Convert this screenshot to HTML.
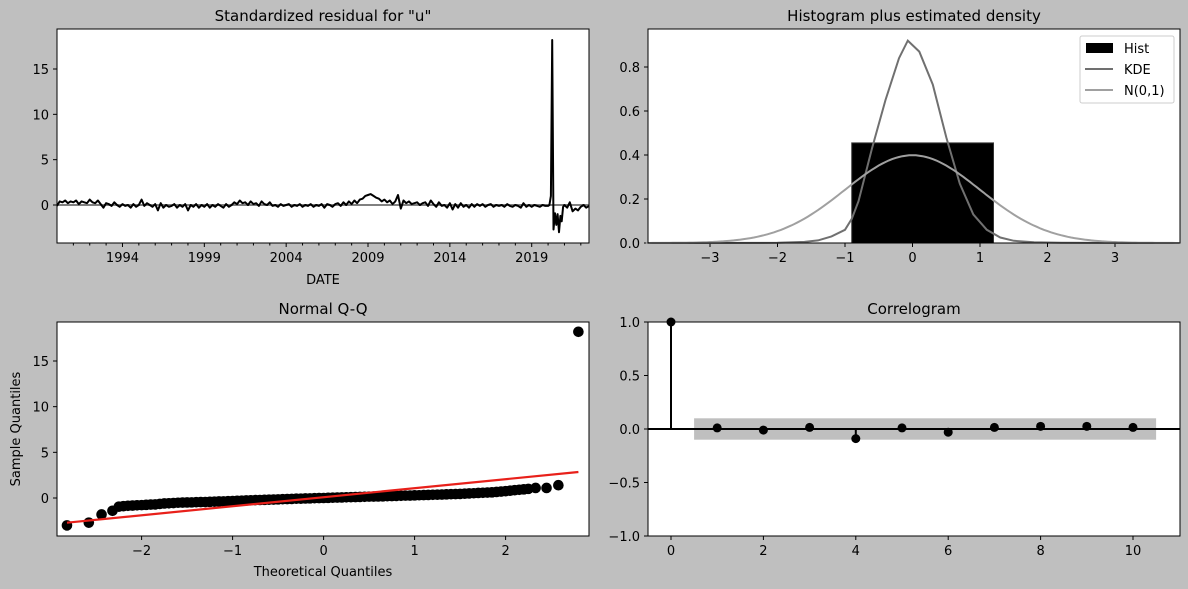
<!DOCTYPE html>
<html><head><meta charset="utf-8"><style>
html,body{margin:0;padding:0;background:#bfbfbf;}
svg{display:block;font-family:"DejaVu Sans","Liberation Sans",sans-serif;}
</style></head><body>
<svg id="fig" width="1188" height="589" viewBox="0 0 1188 589" xmlns="http://www.w3.org/2000/svg"></svg>
<script>
// ---- Panel 1: standardized residual ----
const residStartYear = 1990;
const residBimonthly = [
-0.1,0.4,0.3,0.5,0.2,0.4, 0.3,0.5,0.1,0.4,0.3,0.2, 0.6,0.3,0.2,0.5,0.1,-0.3, 0.2,0.1,-0.1,0.3,0.0,-0.2,
0.1,-0.1,0.0,-0.3,0.1,-0.2, 0.0,0.6,-0.1,0.2,0.0,-0.2, 0.1,-0.6,0.2,-0.3,0.0,-0.2, -0.1,0.1,-0.3,0.0,-0.2,0.1,
-0.6,0.0,-0.2,0.1,-0.3,0.0, -0.2,0.1,-0.3,0.0,-0.2,0.1, -0.1,-0.3,0.1,-0.2,0.0,0.3, 0.1,0.5,0.2,0.3,0.0,0.4,
0.1,0.2,-0.1,0.4,0.1,0.0, 0.3,-0.1,0.0,-0.2,0.1,-0.1, 0.0,0.1,-0.2,0.0,-0.1,0.1, -0.2,0.0,-0.1,0.1,-0.2,0.0,
-0.1,0.1,-0.3,0.1,0.0,-0.2, 0.1,0.2,-0.1,0.3,0.0,0.4, 0.1,0.5,0.2,0.6,0.7,1.0, 1.1,1.2,1.0,0.8,0.7,0.4,
0.6,0.3,0.5,0.1,0.4,1.1, -0.4,0.5,0.2,0.4,0.1,0.2, 0.3,0.0,0.2,0.3,-0.1,0.5, 0.1,-0.2,0.3,-0.1,0.0,-0.3,
0.2,-0.5,0.1,-0.3,0.2,-0.2, 0.0,-0.3,0.1,-0.2,0.1,-0.1, 0.1,-0.2,0.0,0.1,-0.2,0.0, -0.1,0.0,-0.2,0.1,-0.1,-0.2,
0.0,-0.1,-0.3,0.2,-0.2,0.0, -0.2,0.0,-0.1,-0.2,0.0,-0.1];
const residTailDates = [2020.0,2020.08,2020.17,2020.25,2020.33,2020.42,2020.5,2020.58,2020.67,2020.75,2020.83,2020.92,2021.0,2021.17,2021.33,2021.5,2021.67,2021.83,2022.0,2022.17,2022.33,2022.5];
const residTailVals = [-0.1,0.0,1.0,18.2,-2.7,-0.9,-2.2,-1.0,-3.0,-1.2,-1.8,-0.2,0.0,-0.3,0.3,-0.7,-0.4,-0.6,-0.2,0.0,-0.3,-0.1];
const residYTicks = [0,5,10,15];
const residXTicks = [1994,1999,2004,2009,2014,2019];

// ---- Panel 2: histogram ----
const histEdges = [-0.9,1.2];
const histHeights = [0.455];
const kdeX = [-3.9,-2.0,-1.6,-1.4,-1.2,-1.0,-0.9,-0.8,-0.6,-0.4,-0.2,-0.07,0.1,0.3,0.5,0.7,0.9,1.1,1.3,1.5,1.8,2.2,3.9];
const kdeY = [0,0.001,0.005,0.012,0.03,0.06,0.11,0.19,0.43,0.65,0.84,0.92,0.87,0.72,0.48,0.27,0.13,0.06,0.025,0.01,0.003,0.001,0];
const histXTicks = [-3,-2,-1,0,1,2,3];
const histYTicks = [0,0.2,0.4,0.6,0.8];

// ---- Panel 3: QQ ----
const qqBandStart = -2.25, qqBandStep = 0.05;
const qqBandSample = [-0.95,-0.9,-0.85,-0.83,-0.8,-0.78,-0.75,-0.72,-0.7,-0.65,-0.6,-0.58,-0.55,-0.52,-0.5,-0.49,-0.48,-0.46,-0.45,-0.44,-0.42,-0.4,-0.38,-0.37,-0.35,-0.33,-0.3,-0.29,-0.27,-0.25,-0.23,-0.22,-0.2,-0.18,-0.17,-0.15,-0.13,-0.12,-0.1,-0.08,-0.07,-0.05,-0.04,-0.02,-0.01,0.0,
0.02,0.03,0.05,0.06,0.08,0.09,0.1,0.12,0.13,0.15,0.16,0.17,0.18,0.2,0.21,0.23,0.24,0.26,0.27,0.29,0.3,0.32,0.33,0.35,0.36,0.38,0.4,0.42,0.43,0.45,0.47,0.5,0.52,0.55,0.57,0.6,0.62,0.66,0.7,0.75,0.8,0.85,0.9,0.95,1.0];
const qqOutTheo = [-2.82,-2.58,-2.44,-2.32,2.33,2.45,2.58,2.8];
const qqOutSample = [-3.0,-2.7,-1.8,-1.4,1.1,1.1,1.4,18.2];
const qqLineX = [-2.82,2.8];
const qqLineY = [-2.7,2.85];
const qqXTicks = [-2,-1,0,1,2];
const qqYTicks = [0,5,10,15];

// ---- Panel 4: correlogram ----
const acfLags = [0,1,2,3,4,5,6,7,8,9,10];
const acfVals = [1.0,0.01,-0.01,0.015,-0.09,0.01,-0.03,0.015,0.025,0.025,0.015];
const acfConf = 0.1;
const acfXTicks = [0,2,4,6,8,10];
const acfYTicks = [-1.0,-0.5,0.0,0.5,1.0];

const svg = document.getElementById('fig');
const NS = 'http://www.w3.org/2000/svg';
function el(tag, attrs, parent){const e=document.createElementNS(NS,tag);for(const k in attrs)e.setAttribute(k,attrs[k]);(parent||svg).appendChild(e);return e;}
function txt(s, attrs, parent){const e=el('text',attrs,parent);e.textContent=s;return e;}
function scale(d0,d1,r0,r1){return v=>r0+(v-d0)/(d1-d0)*(r1-r0);}

function axesFrame(name,x0,y0,x1,y1,title,xs,ys,xt,yt,fmtX,fmtY){
  const g=el('g',{});
  
  
  el('rect',{x:x0,y:y0,width:x1-x0,height:y1-y0,fill:'#fff'},g);
  const t=txt(title,{x:(x0+x1)/2,y:y0-8,'text-anchor':'middle','font-size':15,fill:'#000'},g);
  
  
  xt.forEach(v=>{const x=xs(v);el('line',{x1:x,x2:x,y1:y1,y2:y1+4,stroke:'#000'},g);
    const l=txt(fmtX(v),{x:x,y:y1+19,'text-anchor':'middle','font-size':13,fill:'#000'},g);
    
    });
  yt.forEach(v=>{const y=ys(v);el('line',{x1:x0-4,x2:x0,y1:y,y2:y,stroke:'#000'},g);
    const l=txt(fmtY(v),{x:x0-8,y:y+5,'text-anchor':'end','font-size':13,fill:'#000'},g);
    
    });
  return g;
}
function border(g,x0,y0,x1,y1){el('rect',{x:x0,y:y0,width:x1-x0,height:y1-y0,fill:'none',stroke:'#000','stroke-width':1},g);}
const minus=s=>String(s).replace('-','\u2212');

// Panel 1
(function(){
  const x0=57,x1=589,y0=29,y1=243;
  const xs=scale(1990.0,2022.5,x0,x1), ys=scale(0,15,205,69);
  const g=axesFrame('residual-panel',x0,y0,x1,y1,'Standardized residual for "u"',xs,ys,residXTicks,residYTicks,String,String);
  for(let yr=1991;yr<=2022;yr++){if(residXTicks.includes(yr))continue;const x=xs(yr);el('line',{x1:x,x2:x,y1:y1,y2:y1+2.5,stroke:'#000'},g);}
  el('line',{x1:x0,x2:x1,y1:ys(0),y2:ys(0),stroke:'#808080','stroke-width':2},g);
  const pts=[];
  residBimonthly.forEach((v,i)=>pts.push(xs(residStartYear+i/6).toFixed(1)+','+ys(v).toFixed(1)));
  residTailDates.forEach((d,i)=>pts.push(xs(d).toFixed(1)+','+ys(residTailVals[i]).toFixed(1)));
  const p=el('polyline',{points:pts.join(' '),fill:'none',stroke:'#000','stroke-width':2,'stroke-linejoin':'round'},g);
  
  
  border(g,x0,y0,x1,y1);
  const xl=txt('DATE',{x:(x0+x1)/2,y:284,'text-anchor':'middle','font-size':13},g);
  
  
})();

// Panel 2
(function(){
  const x0=648,x1=1180,y0=29,y1=243;
  const xs=scale(-3,3,710,1115), ys=scale(0,0.8,243,67);
  const g=axesFrame('histogram-panel',x0,y0,x1,y1,'Histogram plus estimated density',xs,ys,histXTicks,histYTicks,minus,v=>v.toFixed(1));
  histHeights.forEach((h,i)=>{const r=el('rect',{x:xs(histEdges[i]),y:ys(h),width:xs(histEdges[i+1])-xs(histEdges[i]),height:ys(0)-ys(h),fill:'#000',stroke:'#333'},g);
    
    });
  const k=el('polyline',{points:kdeX.map((x,i)=>xs(x).toFixed(1)+','+ys(kdeY[i]).toFixed(1)).join(' '),fill:'none',stroke:'#707070','stroke-width':2},g);
  
  
  const np=[];for(let x=-3.95;x<=3.96;x+=0.05){np.push(xs(x).toFixed(1)+','+ys(Math.exp(-x*x/2)/Math.sqrt(2*Math.PI)).toFixed(1));}
  const n=el('polyline',{points:np.join(' '),fill:'none',stroke:'#a0a0a0','stroke-width':2},g);
  
  
  border(g,x0,y0,x1,y1);
  const lg=el('g',{},g);
  
  
  el('rect',{x:1080,y:36,width:94,height:67,fill:'#fff',stroke:'#ccc',rx:2},lg);
  el('rect',{x:1086,y:43,width:27,height:10,fill:'#000'},lg);
  txt('Hist',{x:1124,y:53,'font-size':13},lg);
  el('line',{x1:1085,x2:1113,y1:69,y2:69,stroke:'#707070','stroke-width':2},lg);
  txt('KDE',{x:1124,y:74,'font-size':13},lg);
  el('line',{x1:1085,x2:1113,y1:90,y2:90,stroke:'#a0a0a0','stroke-width':2},lg);
  txt('N(0,1)',{x:1124,y:95,'font-size':13},lg);
})();

// Panel 3
(function(){
  const x0=57,x1=589,y0=322,y1=536;
  const xs=scale(0,1,323.6,414.6), ys=scale(0,15,498,361);
  const g=axesFrame('qq-panel',x0,y0,x1,y1,'Normal Q-Q',xs,ys,qqXTicks,qqYTicks,minus,String);
  const dots=el('g',{},g);
  
  
  qqBandSample.forEach((v,i)=>el('circle',{cx:xs(qqBandStart+i*qqBandStep),cy:ys(v),r:5.3,fill:'#000'},dots));
  qqOutTheo.forEach((t,i)=>el('circle',{cx:xs(t),cy:ys(qqOutSample[i]),r:5.3,fill:'#000'},dots));
  const l=el('line',{x1:xs(qqLineX[0]),y1:ys(qqLineY[0]),x2:xs(qqLineX[1]),y2:ys(qqLineY[1]),stroke:'#e8201a','stroke-width':2.2},g);
  
  
  border(g,x0,y0,x1,y1);
  const xl=txt('Theoretical Quantiles',{x:(x0+x1)/2,y:576,'text-anchor':'middle','font-size':13},g);
  
  
  const yl=txt('Sample Quantiles',{x:0,y:0,'text-anchor':'middle','font-size':13,transform:'translate(20,429) rotate(-90)'},g);
  
  
})();

// Panel 4
(function(){
  const x0=648,x1=1180,y0=322,y1=536;
  const xs=scale(0,10,671,1133), ys=scale(-1,1,536,322);
  const g=axesFrame('correlogram-panel',x0,y0,x1,y1,'Correlogram',xs,ys,acfXTicks,acfYTicks,String,v=>minus(v.toFixed(1)));
  const b=el('rect',{x:xs(0.5),y:ys(acfConf),width:xs(10.5)-xs(0.5),height:ys(-acfConf)-ys(acfConf),fill:'#bfbfbf'},g);
  
  
  el('line',{x1:x0,x2:x1,y1:ys(0),y2:ys(0),stroke:'#000','stroke-width':2},g);
  acfLags.forEach((lag,i)=>{
    el('line',{x1:xs(lag),x2:xs(lag),y1:ys(0),y2:ys(acfVals[i]),stroke:'#000','stroke-width':2},g);
    const c=el('circle',{cx:xs(lag),cy:ys(acfVals[i]),r:4.5,fill:'#000'},g);
    
    
  });
  border(g,x0,y0,x1,y1);
})();
</script>
</body></html>
